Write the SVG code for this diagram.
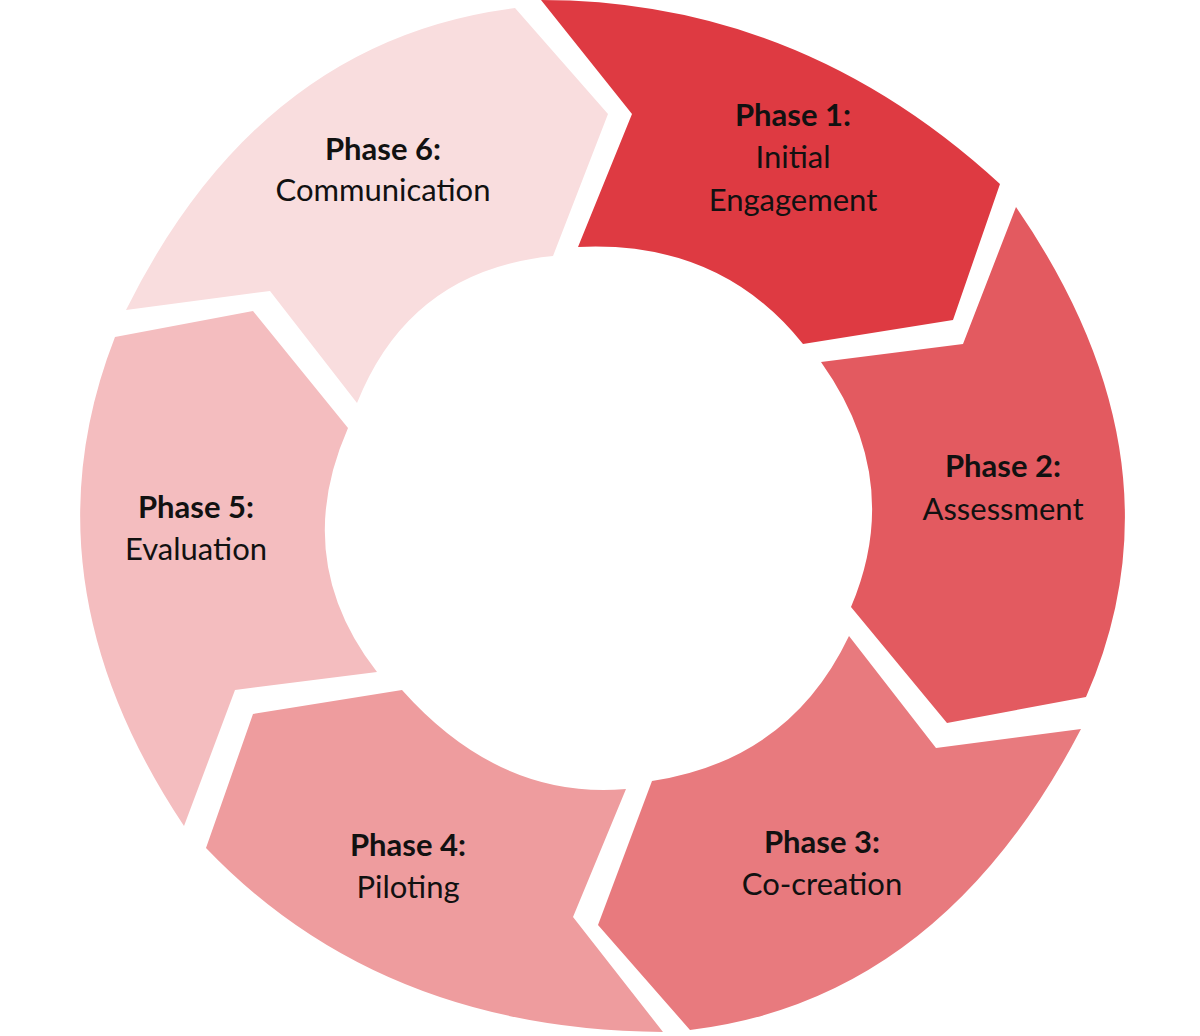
<svg xmlns="http://www.w3.org/2000/svg" width="1200" height="1036" viewBox="0 0 1200 1036">
<style>
text{font-family:Lato,"Open Sans",sans-serif;font-size:31px;fill:#111;text-anchor:middle}
.b{font-weight:bold}
</style>
<rect width="1200" height="1036" fill="#fff"/>
<g id="phase1"><path d="M541,0 Q800,0 1000,184 L953,320 L803,344 Q720,240 578,247 L632,114 Z" fill="#DE3A42"/>
<text class="b" x="793" y="126">Phase 1:</text><text x="793" y="168">Initial</text><text x="793" y="211">Engagement</text></g>
<g id="phase2"><path d="M1016,207 Q1190,460 1086,697 L947,723 L851,607 Q905,480 821,362 L963,344 Z" fill="#E35A60"/>
<text class="b" x="1003" y="477">Phase 2:</text><text x="1003" y="520">Assessment</text></g>
<g id="phase3"><path d="M1081,729 Q940,1000 690,1030 L598,925 L652,781 Q790,760 849,636 L936,748 Z" fill="#E87A7E"/>
<text class="b" x="822" y="853">Phase 3:</text><text x="822" y="895">Co-creation</text></g>
<g id="phase4"><path d="M663,1032 Q380,1030 206,848 L253,714 L402,690 Q500,800 626,789 L573,917 Z" fill="#EE9C9E"/>
<text class="b" x="408" y="856">Phase 4:</text><text x="408" y="898">Piloting</text></g>
<g id="phase5"><path d="M184,826 Q20,580 115,337 L253,311 L348,428 Q290,560 377,672 L235,690 Z" fill="#F4BDBF"/>
<text class="b" x="196" y="518">Phase 5:</text><text x="196" y="560">Evaluation</text></g>
<g id="phase6"><path d="M126,310 Q260,40 515,8 L608,114 L553,256 Q410,270 357,403 L270,291 Z" fill="#F9DDDE"/>
<text class="b" x="383" y="160">Phase 6:</text><text x="383" y="201">Communication</text></g>
<g id="connectors"/>
</svg>
